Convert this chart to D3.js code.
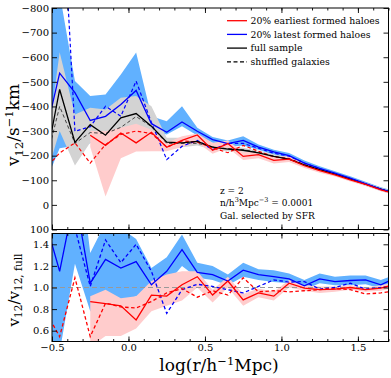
<!DOCTYPE html>
<html>
<head>
<meta charset="utf-8">
<script src="https://cdn.jsdelivr.net/npm/d3@7"></script>
<style>
body{margin:0;background:#fff}
text{font-family:"DejaVu Serif",serif;fill:#000}
</style>
</head>
<body>
<div id="chart"></div>
<script>
// bin centres in log(r/h^-1 Mpc)
const logR = [-0.55,-0.45,-0.35,-0.25,-0.15,-0.05,0.05,0.15,0.25,0.35,0.45,0.55,0.65,0.75,0.85,0.95,1.05,1.15,1.25,1.35,1.45,1.55,1.65,1.75]

// top panel: v12 (km/s)
const fullV    = [-145,-469,-254,-326,-283,-354,-371,-320,-255,-252,-258,-235,-227,-222,-211,-197,-186,-163,-143,-125,-105,-84,-64,-45]
const fullHi   = [-156,-620,-367,-395,-388,-435,-442,-401,-273,-273,-272,-245,-237,-232,-220,-206,-194,-170,-150,-131,-111,-90,-70,-51]
const fullLo   = [-92,-300,-160,-253,-265,-299,-320,-290,-230,-234,-241,-225,-218,-212,-202,-189,-178,-156,-136,-119,-99,-78,-58,-39]
const lateV    = [-267,-535,-456,-343,-360,-408,-465,-330,-295,-337,-299,-265,-249,-262,-235,-215,-200,-170,-148,-129,-109,-86,-64,-47]
const lateHi   = [-1400,-860,-503,-442,-449,-530,-619,-360,-340,-401,-313,-276,-262,-279,-245,-224,-211,-180,-157,-137,-116,-94,-72,-54]
const lateLo   = [-80,-230,-240,-250,-320,-340,-370,-300,-286,-320,-282,-252,-235,-241,-224,-204,-189,-160,-139,-121,-101,-78,-56,-40]
const earlyV   = [null,null,null,-283,-242,-292,-252,-295,-234,-262,-284,-222,-249,-197,-204,-181,-186,-159,-139,-122,-102,-83,-61,-44]
const earlyHi  = [null,null,null,-300,-299,-313,-330,-305,-252,-279,-290,-252,-262,-214,-218,-196,-198,-169,-148,-130,-109,-89,-67,-49]
const earlyLo  = [null,null,null,-235,-34,-190,-217,-218,-218,-235,-254,-208,-232,-182,-190,-168,-174,-150,-131,-115,-95,-77,-55,-39]
const shufFull = [-150,-400,-250,-294,-290,-315,-359,-318,-250,-250,-250,-236,-228,-224,-214,-198,-186,-163,-143,-125,-105,-84,-64,-45]
const shufLate = [-200,-1450,-299,-318,-401,-360,-503,-335,-184,-238,-262,-225,-250,-250,-230,-210,-198,-170,-147,-127,-107,-85,-64,-46]
const shufEarly= [-143,-211,-252,-170,-245,-286,-300,-290,-235,-260,-255,-232,-212,-242,-218,-195,-188,-163,-143,-125,-105,-84,-63,-45]

// bottom panel: ratio to full sample
const lateR     = [1.65,1.15,1.85,1.04,1.26,1.18,1.24,1.025,1.15,1.35,1.14,1.12,1.06,1.16,1.12,1.10,1.08,1.015,1.08,1.055,1.065,1.07,1.025,1.09]
const lateRHi   = [2.5,2.5,2.5,1.32,1.6,1.55,1.45,1.18,1.28,1.49,1.23,1.2,1.12,1.23,1.17,1.16,1.13,1.07,1.13,1.10,1.11,1.11,1.07,1.12]
const lateRLo   = [0.4,0.4,1.22,0.78,0.78,0.87,0.92,0.97,1.03,1.2,1.09,1.07,1.02,1.10,1.07,1.05,1.04,0.98,1.04,1.02,1.02,1.03,0.99,1.02]
const earlyR    = [null,null,null,0.87,0.85,0.83,0.70,0.93,0.92,1.025,1.10,0.93,1.06,0.885,0.95,0.92,1.04,0.995,0.98,0.985,1.0,0.98,0.995,1.03]
const earlyRHi  = [null,null,null,0.92,0.98,0.90,0.92,1.06,1.12,1.15,1.15,0.98,1.10,0.94,0.99,0.96,1.07,1.02,1.01,1.01,1.02,1.00,1.02,1.05]
const earlyRLo  = [null,null,null,0.45,0.55,0.55,0.62,0.78,0.83,0.88,1.0,0.86,1.00,0.83,0.91,0.88,1.00,0.97,0.95,0.96,0.98,0.96,0.97,1.0]
const shufLateR = [1.3,3.0,1.55,1.01,1.44,1.23,1.40,1.15,0.76,0.98,1.03,1.01,0.98,0.95,1.01,1.07,1.05,1.055,0.985,1.0,1.04,0.985,1.0,1.02]
const shufEarlyR= [0.8,0.545,1.09,0.545,0.855,0.82,0.81,0.87,0.95,0.99,0.91,0.97,0.93,1.09,0.96,0.97,0.96,0.97,0.98,0.99,0.98,0.94,0.95,0.97]

const xMajor = [-0.5,0,0.5,1,1.5]
const xMinor = d3.range(-0.5,1.71,0.1).map(d=>Math.round(d*10)/10)
const topTicks = d3.range(-800,101,100)
const botTicks = [0.6,0.8,1.0,1.2,1.4]

const legendLabels = ['20% earliest formed haloes','20% latest formed haloes','full sample','shuffled galaxies']
const legendColors = ['red','blue','black','black']
const legendDash = [null,null,null,'4,2.5']

const width=391, height=378
const left=52, right=388.5
const topY=[8,229.5], botY=[233.5,341.5]

const svg = d3.select('#chart').append('svg')
    .attr('width',width).attr('height',height)

const x = d3.scaleLinear().domain([-0.5,1.7]).range([left,right])
const yTop = d3.scaleLinear().domain([-800,100]).range(topY)
const yBot = d3.scaleLinear().domain([1.5,0.5]).range(botY)

function clip(id, y0, y1){
    svg.append('clipPath').attr('id',id)
        .append('rect').attr('x',left).attr('y',y0).attr('width',right-left).attr('height',y1-y0)
}
clip('cTop',topY[0],topY[1])
clip('cBot',botY[0],botY[1])

function band(g, y, lo, hi, color){
    const area = d3.area()
        .defined((d,i)=>lo[i]!=null)
        .x((d,i)=>x(logR[i]))
        .y0((d,i)=>y(lo[i]))
        .y1((d,i)=>y(hi[i]))
    g.append('path').datum(logR).attr('d',area).attr('fill',color).attr('stroke','none')
}
function line(g, y, vals, color, dash, w){
    const ln = d3.line()
        .defined((d,i)=>vals[i]!=null)
        .x((d,i)=>x(logR[i]))
        .y((d,i)=>y(vals[i]))
    g.append('path').datum(logR).attr('d',ln)
        .attr('fill','none').attr('stroke',color)
        .attr('stroke-width',w||1.3)
        .attr('stroke-dasharray',dash)
}

function frame(y, yr, yTicks, fmt, showX){
    const g = svg.append('g')
    // x ticks, bottom and top, pointing inward
    g.append('g').attr('transform',`translate(0,${yr[1]})`)
        .call(d3.axisBottom(x).tickValues(xMinor).tickSize(-2.5).tickFormat(''))
    g.append('g').attr('transform',`translate(0,${yr[1]})`)
        .call(d3.axisBottom(x).tickValues(xMajor).tickSize(-5).tickPadding(2)
            .tickFormat(showX ? d3.format('.1f') : ''))
    g.append('g').attr('transform',`translate(0,${yr[0]})`)
        .call(d3.axisTop(x).tickValues(xMinor).tickSize(-2.5).tickFormat(''))
    g.append('g').attr('transform',`translate(0,${yr[0]})`)
        .call(d3.axisTop(x).tickValues(xMajor).tickSize(-5).tickFormat(''))
    g.append('g').attr('transform',`translate(${left},0)`)
        .call(d3.axisLeft(y).tickValues(yTicks).tickSize(-5).tickPadding(3).tickFormat(fmt))
    g.append('g').attr('transform',`translate(${right},0)`)
        .call(d3.axisRight(y).tickValues(yTicks).tickSize(-5).tickFormat(''))
    g.selectAll('.domain').remove()
    g.selectAll('.tick line').attr('stroke','#000').attr('stroke-width',0.9)
    g.selectAll('.tick text').attr('font-size',10).attr('font-family','DejaVu Serif')
    g.append('rect').attr('x',left).attr('y',yr[0]).attr('width',right-left).attr('height',yr[1]-yr[0])
        .attr('fill','none').attr('stroke','#000').attr('stroke-width',1)
}

// TOP PANEL
const gt = svg.append('g').attr('clip-path','url(#cTop)')
band(gt,yTop,lateLo,lateHi,'#61b1ff')
band(gt,yTop,fullLo,fullHi,'#d3d3d3')
band(gt,yTop,earlyLo,earlyHi,'#ffcccc')
line(gt,yTop,shufFull,'#333','3.5,2.5',0.9)
line(gt,yTop,shufLate,'blue','3.5,2.5',1.2)
line(gt,yTop,shufEarly,'red','3.5,2.5',1.2)
line(gt,yTop,fullV,'black')
line(gt,yTop,lateV,'blue')
line(gt,yTop,earlyV,'red')
frame(yTop,topY,topTicks,d3.format('d'),false)

// legend
const leg = svg.append('g')
legendLabels.forEach((lab,i)=>{
    const yy = 20.7 + i*13.7
    leg.append('line').attr('x1',227).attr('x2',247).attr('y1',yy).attr('y2',yy)
        .attr('stroke',legendColors[i]).attr('stroke-width',1.3)
        .attr('stroke-dasharray',legendDash[i])
    leg.append('text').attr('x',250.5).attr('y',yy+3.3).attr('font-size',9.3).text(lab)
})

// annotation
const ann = svg.append('g').attr('font-size',9)
ann.append('text').attr('x',220).attr('y',193.5).text('z = 2')
const t2 = ann.append('text').attr('x',220).attr('y',205.8)
t2.append('tspan').text('n/h')
t2.append('tspan').attr('dy',-3.5).attr('font-size',6.5).text('3')
t2.append('tspan').attr('dy',3.5).text('Mpc')
t2.append('tspan').attr('dy',-3.5).attr('font-size',6.5).text('−3')
t2.append('tspan').attr('dy',3.5).text(' = 0.0001')
ann.append('text').attr('x',220).attr('y',218.5).text('Gal. selected by SFR')

// white gap between panels hides the lower half of the "100" label
svg.append('rect').attr('x',0).attr('y',botY[0]).attr('width',left).attr('height',4).attr('fill','#fff')

// BOTTOM PANEL
const gb = svg.append('g').attr('clip-path','url(#cBot)')
band(gb,yBot,lateRLo,lateRHi,'#61b1ff')
band(gb,yBot,earlyRLo,earlyRHi,'#ffcccc')
gb.append('line').attr('x1',left).attr('x2',right).attr('y1',yBot(1)).attr('y2',yBot(1))
    .attr('stroke','#999').attr('stroke-width',1.2).attr('stroke-dasharray','5,3')
line(gb,yBot,shufLateR,'blue','3.5,2.5',1.3)
line(gb,yBot,shufEarlyR,'red','3.5,2.5',1.3)
line(gb,yBot,lateR,'blue')
line(gb,yBot,earlyR,'red')
frame(yBot,botY,botTicks,d3.format('.1f'),true)

// axis titles
const yl = svg.append('text').attr('transform','translate(19,125) rotate(-90)')
    .attr('text-anchor','middle').attr('font-size',17)
yl.append('tspan').text('v')
yl.append('tspan').attr('dy',3.5).attr('font-size',11.5).text('12')
yl.append('tspan').attr('dy',-3.5).text('/s')
yl.append('tspan').attr('dy',-6.5).attr('font-size',11.5).text('−1')
yl.append('tspan').attr('dy',6.5).text('km')

const yl2 = svg.append('text').attr('transform','translate(19,290) rotate(-90)')
    .attr('text-anchor','middle').attr('font-size',15)
yl2.append('tspan').text('v')
yl2.append('tspan').attr('dy',3).attr('font-size',10.5).text('12')
yl2.append('tspan').attr('dy',-3).text('/v')
yl2.append('tspan').attr('dy',3).attr('font-size',10.5).text('12, full')

const xl = svg.append('text').attr('x',219).attr('y',371)
    .attr('text-anchor','middle').attr('font-size',17)
xl.append('tspan').text('log(r/h')
xl.append('tspan').attr('dy',-6.5).attr('font-size',11.5).text('−1')
xl.append('tspan').attr('dy',6.5).text('Mpc)')
</script>
</body>
</html>
